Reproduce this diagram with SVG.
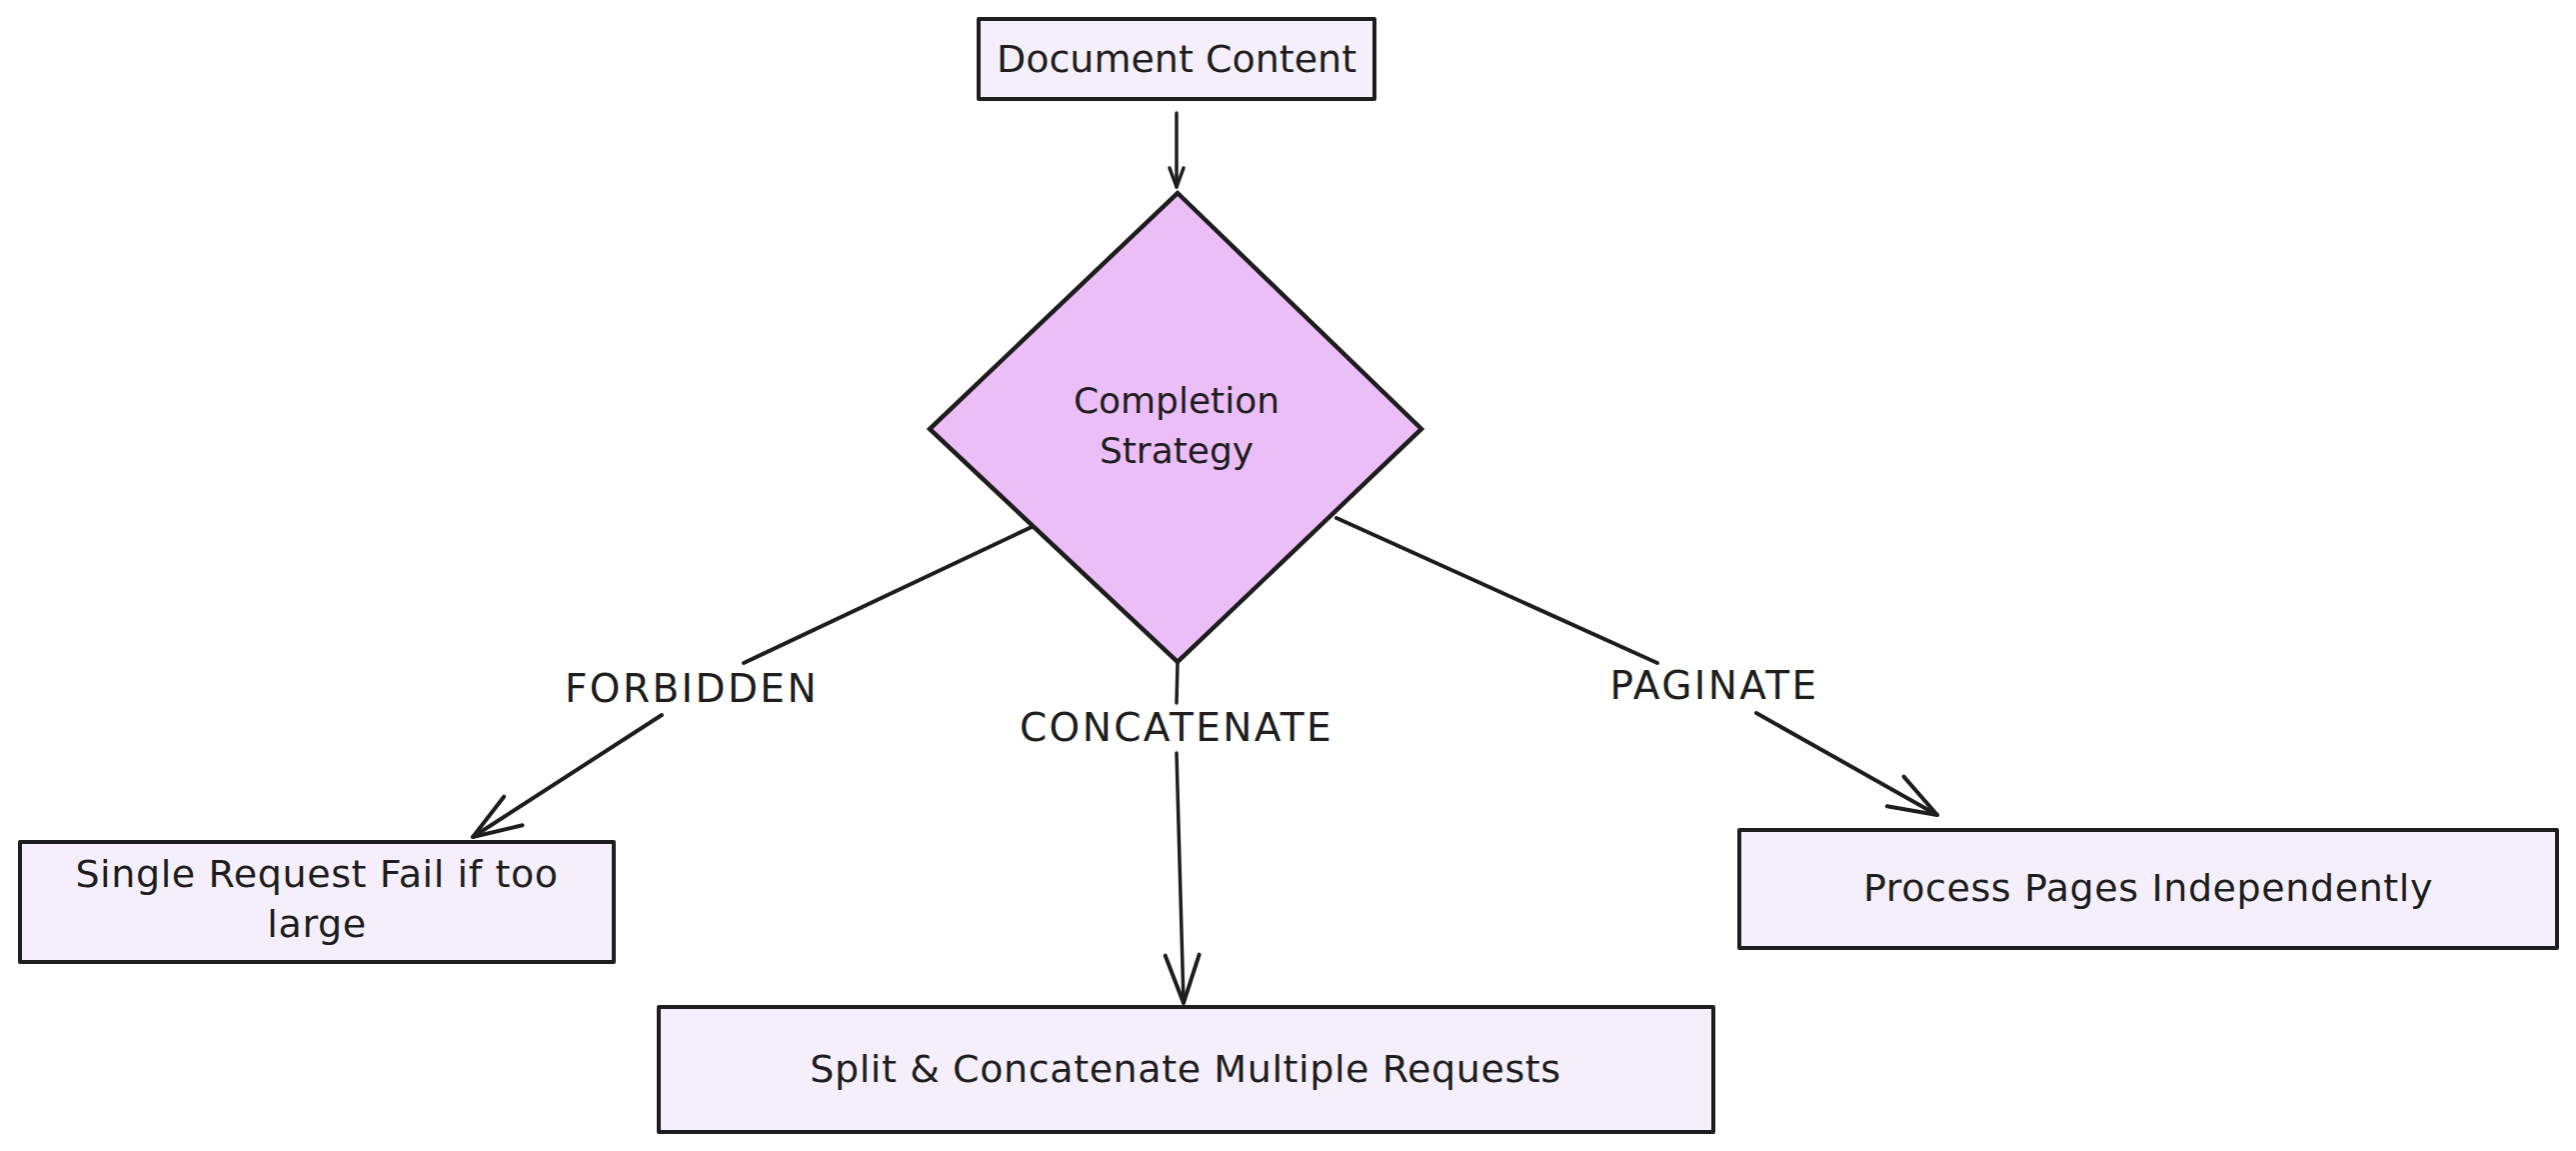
<svg xmlns="http://www.w3.org/2000/svg" width="2577" height="1151" viewBox="0 0 2577 1151">
<style>
.box{fill:#f5effc;stroke:#1e1e1e;stroke-width:4;stroke-linejoin:round}
.dia{fill:#ecbef8;stroke:#1e1e1e;stroke-width:4.5;stroke-linejoin:miter}
.t{font-family:"DejaVu Sans","Liberation Sans",sans-serif;fill:#1e1e1e;text-anchor:middle}
.n{font-size:38px}
.w{letter-spacing:0.6px}
.d{font-size:36px}
.lbl{font-size:39px;letter-spacing:2.4px}
.edge{fill:none;stroke:#1e1e1e;stroke-width:4;stroke-linecap:round;stroke-linejoin:round}
.thin{stroke-width:3.5}
</style>
<defs>
<marker id="ah" markerUnits="userSpaceOnUse" markerWidth="70" markerHeight="50" viewBox="-60 -25 70 50" refX="0" refY="0" orient="auto" overflow="visible">
<path d="M-48,-17 L0,0 L-48,17" fill="none" stroke="#1e1e1e" stroke-width="4" stroke-linecap="round" stroke-linejoin="round"/>
</marker>
<marker id="ahs" markerUnits="userSpaceOnUse" markerWidth="30" markerHeight="24" viewBox="-25 -12 30 24" refX="0" refY="0" orient="auto" overflow="visible">
<path d="M-19,-7 L0,0 L-19,7" fill="none" stroke="#1e1e1e" stroke-width="3.5" stroke-linecap="round" stroke-linejoin="round"/>
</marker>
</defs>
<rect width="2577" height="1151" fill="#ffffff"/>
<g id="connectors">
<path class="edge thin" d="M1177,113 L1177,187" marker-end="url(#ahs)"/>
<path class="edge" d="M1032,527 L744,663 M662,715 L473,837" marker-end="url(#ah)"/>
<path class="edge thin" d="M1178,663 L1177,703 M1177,753 L1184,1003" marker-end="url(#ah)"/>
<path class="edge" d="M1337,518 L1658,663 M1757,713 L1938,815" marker-end="url(#ah)"/>
<text class="t lbl" x="692" y="702">FORBIDDEN</text>
<text class="t lbl" x="1177" y="741">CONCATENATE</text>
<text class="t lbl" x="1715" y="699">PAGINATE</text>
</g>
<g id="doc">
<rect class="box" x="979" y="19" width="396" height="80"/>
<text class="t n" x="1177" y="72">Document Content</text>
</g>
<g id="strategy">
<polygon class="dia" points="1178,193 1422,429 1178,662 930,429"/>
<text class="t d" x="1177" y="413">Completion</text>
<text class="t d" x="1177" y="463">Strategy</text>
</g>
<g id="single">
<rect class="box" x="20" y="842" width="594" height="120"/>
<text class="t n w" x="317" y="887">Single Request Fail if too</text>
<text class="t n w" x="317" y="937">large</text>
</g>
<g id="split">
<rect class="box" x="659" y="1007" width="1055" height="125"/>
<text class="t n w" x="1186" y="1082">Split &amp; Concatenate Multiple Requests</text>
</g>
<g id="process">
<rect class="box" x="1740" y="830" width="818" height="118"/>
<text class="t n w" x="2149" y="901">Process Pages Independently</text>
</g>
</svg>
